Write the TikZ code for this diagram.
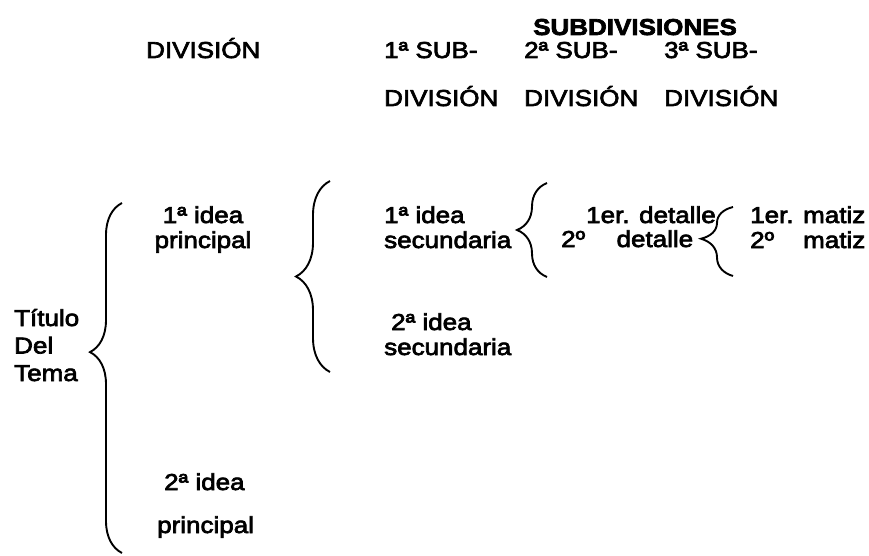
\documentclass[tikz,border=0pt]{standalone}
\usepackage{fontspec}
\setmainfont{Liberation Sans}
\newfontfamily\bodyfont{Liberation Sans}[FakeStretch=1.13]
\newfontfamily\headfont{Liberation Sans Bold}[FakeStretch=1.13]
\newcommand\heavytext[1]{\special{pdf:literal direct 2 Tr 0.7 w}#1\special{pdf:literal direct 0 Tr}}
\usetikzlibrary{decorations.pathreplacing}
\tikzset{
  txt/.style={anchor=base west, inner sep=0pt, font=\bodyfont\fontsize{23}{25}\selectfont},
  ctxt/.style={anchor=base, inner sep=0pt, font=\bodyfont\fontsize{23}{25}\selectfont},
  curly/.style={line width=1.9pt, decorate, decoration={brace, amplitude=#1}},
}
\begin{document}
\begin{tikzpicture}[x=1pt,y=-1pt]
\useasboundingbox (0,0) rectangle (869,556);
% headers
\node[txt, font=\headfont\fontsize{23}{25}\selectfont] (sub) at (533,35) {\heavytext{SUBDIVISIONES}};
\node[txt] (div) at (146,58) {\heavytext{DIVISIÓN}};
\node[txt] (s1a) at (384,58) {\heavytext{1ª SUB-}};
\node[txt] (s2a) at (524,58) {\heavytext{2ª SUB-}};
\node[txt] (s3a) at (664,58) {\heavytext{3ª SUB-}};
\node[txt] (s1b) at (384,106) {\heavytext{DIVISIÓN}};
\node[txt] (s2b) at (524,106) {\heavytext{DIVISIÓN}};
\node[txt] (s3b) at (664,106) {\heavytext{DIVISIÓN}};
% title
\node[txt] (tit) at (14,326) {\heavytext{\begin{tabular}[t]{@{}l@{}}Título\\[2.5pt] Del\\[2.5pt] Tema\end{tabular}}};
% division
\node[ctxt] (p1) at (203,223) {\heavytext{\begin{tabular}[t]{@{}c@{}}1ª idea\\ principal\end{tabular}}};
\node[txt] (p2a) at (164,490) {\heavytext{2ª idea}};
\node[txt] (p2b) at (157,533) {\heavytext{principal}};
% first subdivision
\node[txt] (sa) at (384,223) {\heavytext{\begin{tabular}[t]{@{}l@{}}1ª idea\\ secundaria\end{tabular}}};
\node[txt] (sb) at (384,330) {\heavytext{\begin{tabular}[t]{@{}l@{}}\hspace{7pt}2ª idea\\ secundaria\end{tabular}}};
% second subdivision
\node[txt] (d1) at (586,223) {\heavytext{1er. detalle}};
\node[txt] (d2) at (561,247) {\heavytext{\makebox[132pt][l]{2º\hfill detalle}}};
% third subdivision
\node[txt] (m1) at (750,223) {\heavytext{\begin{tabular}[t]{@{}l@{}}1er. matiz\\ 2º\hfill matiz\end{tabular}}};
% braces
\draw[curly=32pt, decoration={aspect=0.574}] (122,553) -- (122,203);
\draw[curly=34pt] (330,372) -- (330,181);
\draw[curly=30pt] (547,277) -- (547,183);
\draw[curly=32pt, decoration={aspect=0.54}] (733,276) -- (733,207);
\end{tikzpicture}
\end{document}
